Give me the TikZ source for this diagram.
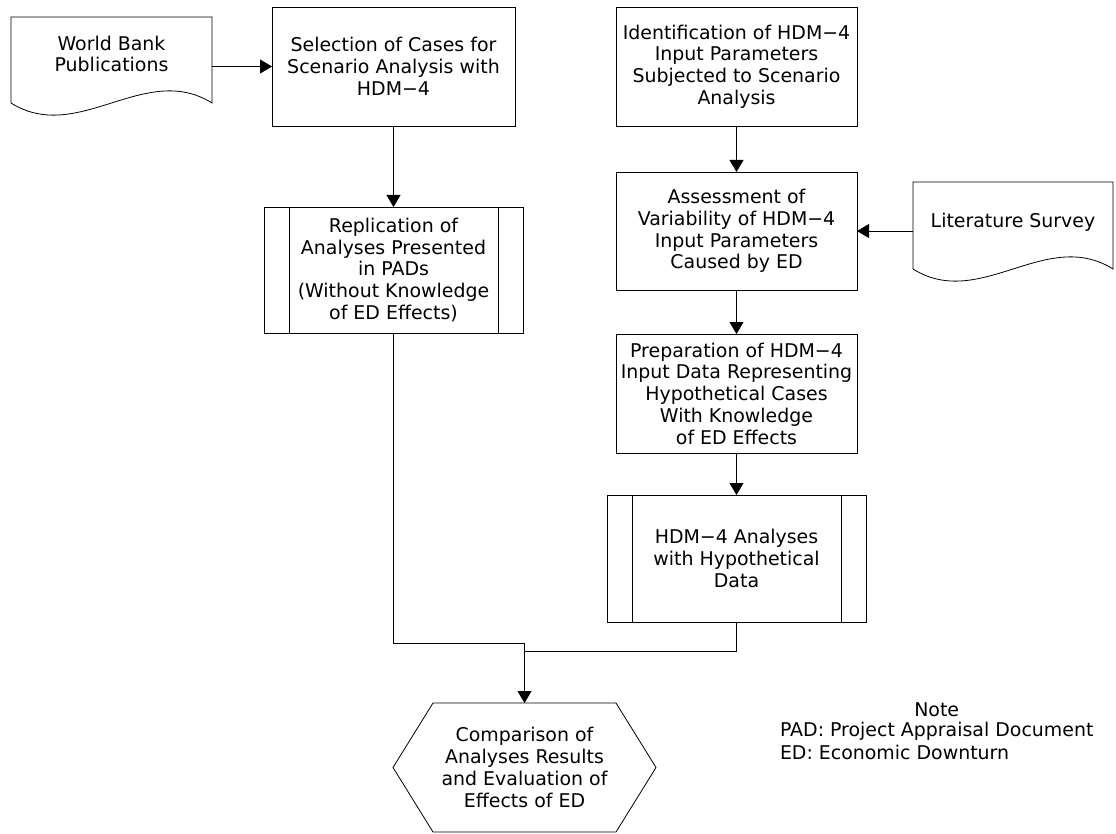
\documentclass[tikz,border=0pt]{standalone}
\usepackage{fontspec}
\setmainfont{DejaVu Sans}
\usetikzlibrary{arrows.meta,calc}
\begin{document}
\begin{tikzpicture}[x=0.75pt,y=-0.75pt,
  font=\fontsize{14.2}{16.3}\selectfont,
  line width=0.6pt,
  every node/.style={inner sep=0pt, outer sep=0pt},
  txt/.style={align=center},
  procbox/.style={draw, rectangle, align=center, minimum width=180.75pt, minimum height=89.25pt},
  subbox/.style={draw, rectangle, align=center, minimum width=194.25pt, minimum height=95pt},
  arr/.style={-{Triangle[length=9pt,width=10.5pt]}}
]
\useasboundingbox (0,0) rectangle (1116,834);

% World Bank document shape
\node[rectangle, minimum width=150.75pt, minimum height=64.5pt] (wb) at (111.5,60) {};
\draw (wb.south west) -- (wb.north west) -- (wb.north east) -- (wb.south east)
  .. controls ($(wb.south east)+(-67,-42)$) and ($(wb.south west)+(67,42)$) .. (wb.south west);
\node[txt] (wbt) at ($(wb.center)+(0,-6)$) {World Bank\\Publications};

% Literature Survey document shape
\node[rectangle, minimum width=150pt, minimum height=65.25pt] (lit) at (1013,225.5) {};
\draw (lit.south west) -- (lit.north west) -- (lit.north east) -- (lit.south east)
  .. controls ($(lit.south east)+(-67,-42)$) and ($(lit.south west)+(67,42)$) .. (lit.south west);
\node[txt] (litt) at ($(lit.center)+(0,-3.5)$) {Literature Survey};

% Process boxes
\node[procbox, minimum width=182.25pt] (sel) at (393.5,66.5) {Selection of Cases for\\Scenario Analysis with\\HDM−4};
\node[procbox] (ident) at (736.5,66.5) {Identification of HDM−4\\Input Parameters\\Subjected to Scenario\\Analysis};
\node[procbox, minimum height=88.5pt] (assess) at (736.5,231) {Assessment of\\Variability of HDM−4\\Input Parameters\\Caused by ED};
\node[procbox] (prep) at (736.5,393.5) {Preparation of HDM−4\\Input Data Representing\\Hypothetical Cases\\With Knowledge\\of ED Effects};

% Predefined-process boxes
\node[subbox, minimum height=94.5pt] (rep) at (393.5,270) {Replication of\\Analyses Presented\\in PADs\\(Without Knowledge\\of ED Effects)};
\draw ($(rep.north west)+(25,0)$) -- ($(rep.south west)+(25,0)$);
\draw ($(rep.north east)+(-25,0)$) -- ($(rep.south east)+(-25,0)$);

\node[subbox, minimum height=95.25pt] (hdm) at (736.5,558.5) {HDM−4 Analyses\\with Hypothetical\\Data};
\draw ($(hdm.north west)+(25,0)$) -- ($(hdm.south west)+(25,0)$);
\draw ($(hdm.north east)+(-25,0)$) -- ($(hdm.south east)+(-25,0)$);

% Hexagon
\node[rectangle, minimum width=197.25pt, minimum height=96.75pt, align=center] (cmp) at (524.5,767.5) {Comparison of\\Analyses Results\\and Evaluation of\\Effects of ED};
\draw (cmp.west) -- ($(cmp.north west)+(40,0)$) -- ($(cmp.north east)+(-40,0)$) -- (cmp.east)
  -- ($(cmp.south east)+(-40,0)$) -- ($(cmp.south west)+(40,0)$) -- cycle;

% Connectors
\draw[arr] (wb.east |- sel.west) -- (sel.west);
\draw[arr] (sel.south) -- (rep.north);
\draw[arr] (ident.south) -- (assess.north);
\draw[arr] (lit.west |- assess.east) -- (assess.east);
\draw[arr] (assess.south) -- (prep.north);
\draw[arr] (prep.south) -- (hdm.north);
\coordinate (jl) at (524.5,643);
\coordinate (jr) at (524.5,651);
\draw (rep.south) |- (jl);
\draw (hdm.south) |- (jr);
\draw[arr] (jl) -- (cmp.north);

% Note
\node[anchor=west] (pad) at (780,731) {PAD: Project Appraisal Document};
\node[anchor=west] (ed) at (780,752) {ED: Economic Downturn};
\node (note) at (pad.center |- 0,710) {Note};
\end{tikzpicture}
\end{document}
